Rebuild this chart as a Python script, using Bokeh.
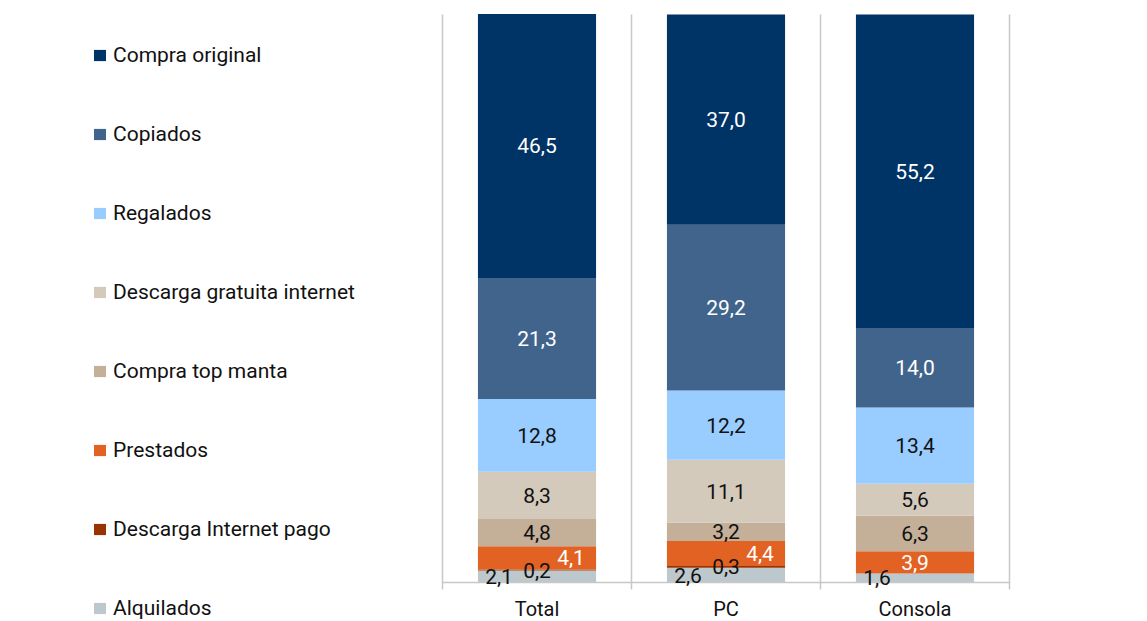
from bokeh.plotting import figure
from bokeh.models import (ColumnDataSource, Range1d, Legend, LegendItem)
from bokeh.core.properties import value
from bokeh.embed import file_html
from bokeh.resources import INLINE

# ---------------- data ----------------
categories = ["Total", "PC", "Consola"]
series = ["Alquilados", "Descarga Internet pago", "Prestados", "Compra top manta",
          "Descarga gratuita internet", "Regalados", "Copiados", "Compra original"]
alquilados = [2.1, 2.6, 1.6]
descarga_pago = [0.2, 0.3, 0.0]
prestados = [4.1, 4.4, 3.9]
top_manta = [4.8, 3.2, 6.3]
descarga_gratis = [8.3, 11.1, 5.6]
regalados = [12.8, 12.2, 13.4]
copiados = [21.3, 29.2, 14.0]
compra_original = [46.5, 37.0, 55.2]

values = [alquilados, descarga_pago, prestados, top_manta,
          descarga_gratis, regalados, copiados, compra_original]

# ---------------- style ----------------
colors = ["#BCC8CC", "#993300", "#E26224", "#C4AF99",
          "#D3CABC", "#99CCFF", "#41648D", "#003366"]
label_colors = ["#111111", "#111111", "#FFFFFF", "#111111",
                "#111111", "#111111", "#FFFFFF", "#FFFFFF"]
FONT = "Roboto"

W, H = 1139, 621
cat_w_px = 189.0
left_px = 442.0          # x (in figure) where first category starts
right_px = W - left_px - 3 * cat_w_px
px_per_unit = 568.0 / 100.0
base_px = 582.0          # figure y of value 0
top_px = 14.0            # figure y of value 100

x_start = -left_px / cat_w_px
x_end = 3 + right_px / cat_w_px
y_start = -(H - base_px) / px_per_unit
y_end = 100 + top_px / px_per_unit

p = figure(width=W, height=H, output_backend="svg", toolbar_location=None,
           x_range=Range1d(x_start, x_end), y_range=Range1d(y_start, y_end),
           min_border=0, min_border_left=0, min_border_right=0,
           min_border_top=0, min_border_bottom=0)
p.axis.visible = False
p.grid.visible = False
p.outline_line_color = None
p.background_fill_color = "white"

xs = [i + 0.5 for i in range(len(categories))]
data = {"x": xs}
for name, vals in zip(series, values):
    data[name] = vals
src = ColumnDataSource(data)

renderers = p.vbar_stack(series, x="x", width=0.625, source=src,
                         color=colors, line_color=None)

# gridlines at category boundaries + axis line
p.segment(x0=[0, 1, 2, 3], y0=[-7.0 / px_per_unit] * 4, x1=[0, 1, 2, 3], y1=[100] * 4,
          line_color="#C8C8C8", line_width=1.5)
p.segment(x0=[0], y0=[0], x1=[3], y1=[0], line_color="#C8C8C8", line_width=1.5)

# data labels
lx, ly, lt, lc, lo = [], [], [], [], []
for ci in range(len(categories)):
    cum = 0.0
    for si, vals in enumerate(values):
        v = vals[ci]
        if v > 0:
            off = 0
            if series[si] == "Alquilados":
                off = -38
            if series[si] == "Prestados" and descarga_pago[ci] > 0:
                off = 34
            lx.append(xs[ci])
            ly.append(cum + v / 2.0)
            lt.append(f"{v:.1f}".replace(".", ","))
            lc.append(label_colors[si])
            lo.append(off)
        cum += v
lsrc = ColumnDataSource(dict(x=lx, y=ly, t=lt, c=lc, o=lo))
p.text(x="x", y="y", text="t", text_color="c", x_offset="o", source=lsrc,
       text_align="center", text_baseline="middle",
       text_font=value(FONT), text_font_size="21px")

# category labels
p.text(x=xs, y=[-14.0 / px_per_unit] * 3, text=categories,
       text_align="center", text_baseline="top", text_color="#111111",
       text_font=value(FONT), text_font_size="20px")

# legend (top to bottom: reverse stack order)
items = [LegendItem(label=series[i], renderers=[renderers[i]])
         for i in range(len(series) - 1, -1, -1)]
legend = Legend(items=items, location=(92, 1), spacing=55,
                glyph_width=15, glyph_height=14, label_standoff=6,
                label_text_font=FONT, label_text_font_size="21px",
                label_text_color="#111111", label_height=24,
                padding=0, margin=0, border_line_color=None,
                background_fill_alpha=0)
p.add_layout(legend)

open("out.html", "w").write(file_html(p, INLINE))
